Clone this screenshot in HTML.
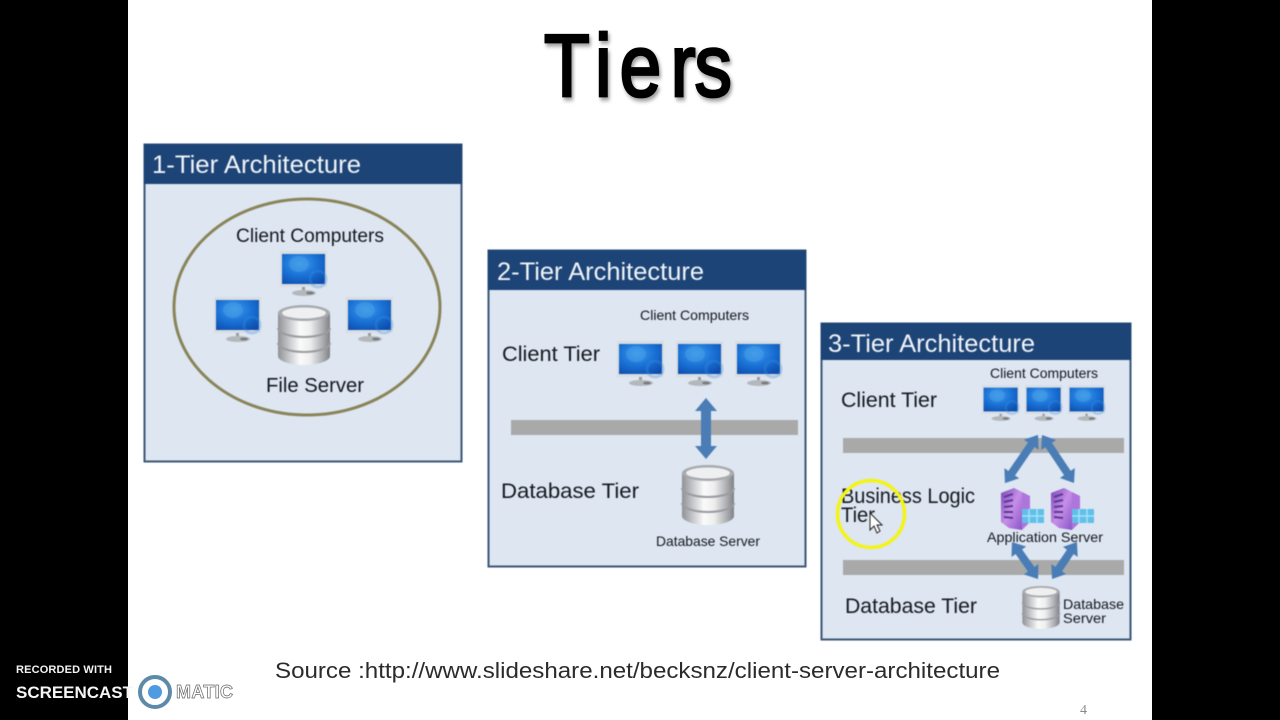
<!DOCTYPE html>
<html><head><meta charset="utf-8"><style>
html,body{margin:0;padding:0;background:#000;width:1280px;height:720px;overflow:hidden}
svg{display:block}
text{font-family:"Liberation Sans",sans-serif;fill:#15181f}
.h{fill:#f0f4f8;font-size:25px}
.t{font-size:21px}
.s{font-size:14px}
.soft{filter:blur(.45px)}
</style></head><body>
<svg width="1280" height="720" viewBox="0 0 1280 720" xmlns="http://www.w3.org/2000/svg">
<defs>
<radialGradient id="sc" cx=".42" cy=".32" r=".8"><stop offset="0" stop-color="#3f9bea"/><stop offset=".5" stop-color="#1a72d6"/><stop offset="1" stop-color="#0c4cac"/></radialGradient>
<linearGradient id="cy" x1="0" x2="1" y1="0" y2="0"><stop offset="0" stop-color="#8f9196"/><stop offset=".22" stop-color="#c9cacd"/><stop offset=".42" stop-color="#fafafa"/><stop offset=".62" stop-color="#eeeeef"/><stop offset=".85" stop-color="#aeb0b4"/><stop offset="1" stop-color="#7f8186"/></linearGradient>
<linearGradient id="sv" x1="0" x2="1" y1="0" y2="1"><stop offset="0" stop-color="#7a45b8"/><stop offset=".5" stop-color="#c78fe8"/><stop offset="1" stop-color="#8a55c8"/></linearGradient>
<marker id="ah" viewBox="0 0 12 18" refX="1" refY="9" markerUnits="userSpaceOnUse" markerWidth="12" markerHeight="18" orient="auto-start-reverse"><path d="M0 0L12 9L0 18Z" fill="#4a7db5"/></marker>
<symbol id="mon" viewBox="0 0 48 46" overflow="visible">
<rect x="0" y="0" width="47" height="36" fill="#dadde1"/>
<rect x="2" y="3" width="43" height="30" fill="url(#sc)"/>
<ellipse cx="19" cy="13" rx="10" ry="8" fill="#4a9fe8" opacity=".5"/>
<circle cx="38" cy="28" r="8" fill="none" stroke="#3b93e4" stroke-width="3" opacity=".3"/>
<rect x="22" y="36" width="3" height="3" fill="#9a9ea3"/>
<ellipse cx="24" cy="42" rx="12" ry="3" fill="#b4b8bc"/>
<ellipse cx="30" cy="42" rx="4" ry="1.4" fill="#777a7e"/>
</symbol>
<symbol id="db" viewBox="0 0 52 60" overflow="visible">
<path d="M0 8V51C0 56 12 60 26 60S52 56 52 51V8Z" fill="url(#cy)"/>
<ellipse cx="26" cy="8" rx="26" ry="8" fill="#a8aaae"/>
<ellipse cx="26" cy="8" rx="22" ry="5.5" fill="#eeeff0"/>
<path d="M0 23C0 28 12 32 26 32S52 28 52 23" fill="none" stroke="#9a9ca0" stroke-width="2"/>
<path d="M0 38C0 43 12 47 26 47S52 43 52 38" fill="none" stroke="#9a9ca0" stroke-width="2"/>
</symbol>
<symbol id="srv" viewBox="0 0 44 42" overflow="visible">
<path d="M0 5L13 0L21 4V42L8 40L0 34Z" fill="url(#sv)"/>
<path d="M21 4L29 8V34L21 42Z" fill="#b075dc"/>
<path d="M3 9L12 6M3 14L12 12M3 19L12 18M3 24L12 24M3 29L12 30" stroke="#5d3a93" stroke-width="2"/>
<rect x="21" y="21" width="22" height="14" fill="#5fc0ea"/>
<path d="M21 28H43M28 21V35M36 21V35" stroke="#a6e2f6" stroke-width="1.5"/>
</symbol>
</defs>

<rect x="128" y="0" width="1024" height="720" fill="#fff"/>

<g transform="scale(.85 1)">
<text x="640 700 729 789 817" y="96" style="font-size:88px;fill:#000;stroke:#000;stroke-width:2.8;filter:drop-shadow(2px 3px 2px rgba(0,0,0,.4))">Tiers</text>
</g>

<g class="soft">
<!-- Panel 1 -->
<rect x="144.5" y="144.5" width="317" height="317" fill="#dde6f1" stroke="#3c5677" stroke-width="2"/>
<rect x="144" y="144" width="318" height="40" fill="#1d4476"/>
<text class="h" x="152" y="173" textLength="209" lengthAdjust="spacingAndGlyphs">1-Tier Architecture</text>
<ellipse cx="307" cy="307" rx="133" ry="108" fill="none" stroke="#8a8458" stroke-width="3"/>
<text class="t" x="236" y="242" style="font-size:19px" textLength="148" lengthAdjust="spacingAndGlyphs">Client Computers</text>
<use href="#mon" x="280" y="251" width="48" height="46"/>
<use href="#mon" x="214" y="297" width="48" height="46"/>
<use href="#mon" x="346" y="297" width="48" height="46"/>
<use href="#db" x="278" y="305" width="52" height="60"/>
<text class="t" x="266" y="392" style="font-size:20px" textLength="98" lengthAdjust="spacingAndGlyphs">File Server</text>

<!-- Panel 2 -->
<rect x="488.5" y="250.5" width="317" height="316" fill="#dde6f1" stroke="#3c5677" stroke-width="2"/>
<rect x="488" y="250" width="318" height="40" fill="#1d4476"/>
<text class="h" x="497" y="280" textLength="207" lengthAdjust="spacingAndGlyphs">2-Tier Architecture</text>
<text class="s" x="640" y="320" textLength="109" lengthAdjust="spacingAndGlyphs">Client Computers</text>
<text class="t" x="502" y="361" textLength="98" lengthAdjust="spacingAndGlyphs">Client Tier</text>
<use href="#mon" x="617" y="341" width="48" height="46"/>
<use href="#mon" x="676" y="341" width="48" height="46"/>
<use href="#mon" x="735" y="341" width="48" height="46"/>
<rect x="511" y="420" width="287" height="15" fill="#a9a9a9"/>
<path d="M706 398L717 411H711V446H717L706 459L695 446H701V411H695Z" fill="#4a7db5"/>
<use href="#db" x="682" y="465" width="52" height="60"/>
<text class="t" x="501" y="498" textLength="138" lengthAdjust="spacingAndGlyphs">Database Tier</text>
<text class="s" x="656" y="546" textLength="104" lengthAdjust="spacingAndGlyphs">Database Server</text>

<!-- Panel 3 -->
<rect x="821.5" y="323.5" width="309" height="316" fill="#dde6f1" stroke="#3c5677" stroke-width="2"/>
<rect x="821" y="323" width="310" height="37" fill="#1d4476"/>
<text class="h" x="828" y="352" textLength="207" lengthAdjust="spacingAndGlyphs">3-Tier Architecture</text>
<text class="s" x="990" y="378" textLength="108" lengthAdjust="spacingAndGlyphs">Client Computers</text>
<text class="t" x="841" y="407" textLength="96" lengthAdjust="spacingAndGlyphs">Client Tier</text>
<use href="#mon" x="982" y="385" width="38" height="37"/>
<use href="#mon" x="1025" y="385" width="38" height="37"/>
<use href="#mon" x="1068" y="385" width="38" height="37"/>
<rect x="843" y="438" width="281" height="15" fill="#a9a9a9"/>
<rect x="843" y="560" width="281" height="15" fill="#a9a9a9"/>
<text class="t" x="841" y="503" textLength="134" lengthAdjust="spacingAndGlyphs">Business Logic</text>
<text class="t" x="841" y="522" textLength="34" lengthAdjust="spacingAndGlyphs">Tier</text>
<g stroke="#4a7db5" stroke-width="8" fill="none">
<path d="M1031.8 444L1011.2 474" marker-start="url(#ah)" marker-end="url(#ah)"/>
<path d="M1048.1 444.2L1067.9 473.8" marker-start="url(#ah)" marker-end="url(#ah)"/>
<path d="M1018.3 551L1031.7 570" marker-start="url(#ah)" marker-end="url(#ah)"/>
<path d="M1070.8 551.1L1058.2 569.9" marker-start="url(#ah)" marker-end="url(#ah)"/>
</g>
<use href="#srv" x="1001" y="488" width="44" height="42"/>
<use href="#srv" x="1051" y="488" width="44" height="42"/>
<text class="s" x="987" y="542" textLength="116" lengthAdjust="spacingAndGlyphs">Application Server</text>
<use href="#db" x="1022" y="586" width="38" height="43"/>
<text class="s" x="1063" y="609" textLength="61" lengthAdjust="spacingAndGlyphs">Database</text>
<text class="s" x="1063" y="623" textLength="43" lengthAdjust="spacingAndGlyphs">Server</text>
<text class="t" x="845" y="613" textLength="132" lengthAdjust="spacingAndGlyphs">Database Tier</text>

<!-- Highlight + cursor -->
<circle cx="871" cy="514" r="33.5" fill="none" stroke="#f4f414" stroke-width="3.5"/>
<path d="M870 513V530L874 526L877 533L880 531L877 525L882 525Z" fill="#fff" stroke="#222" stroke-width="1"/>
</g>

<!-- Source -->
<text x="275" y="678" style="font-size:22px;fill:#2b2b2b" textLength="725" lengthAdjust="spacingAndGlyphs">Source :http://www.slideshare.net/becksnz/client-server-architecture</text>
<text x="1080" y="714" style="font-family:'Liberation Serif',serif;font-size:14px;fill:#8a8a8a">4</text>

<!-- Watermark -->
<text x="16" y="673" style="font-size:11px;font-weight:bold;fill:#f2f2f2" textLength="96" lengthAdjust="spacing">RECORDED WITH</text>
<text x="16" y="698" style="font-size:17px;font-weight:bold;fill:#f5f5f5" textLength="117" lengthAdjust="spacing">SCREENCAST</text>
<circle cx="155" cy="692" r="15" fill="#fff" stroke="#5c8aa8" stroke-width="4"/>
<circle cx="155" cy="692" r="7" fill="#4f9be0"/>
<text x="176" y="698" style="font-size:18px;font-weight:bold;fill:#fff;stroke:#666;stroke-width:.7" textLength="57" lengthAdjust="spacing">MATIC</text>
</svg>
</body></html>
